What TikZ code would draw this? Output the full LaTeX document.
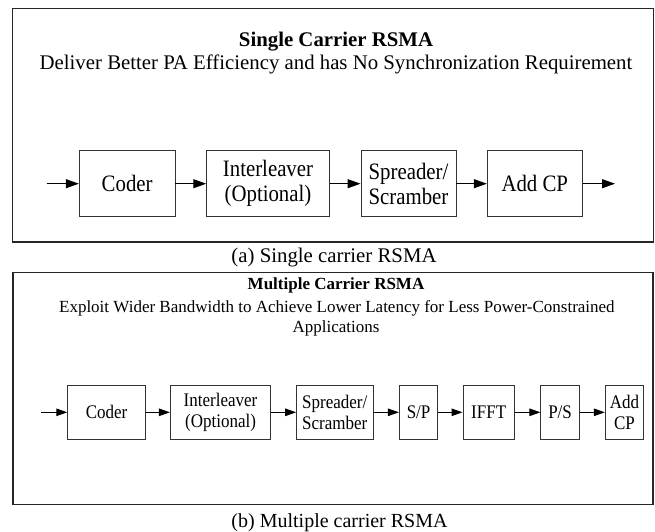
\documentclass[tikz,border=0pt]{standalone}
\usepackage{fontspec}
\setmainfont{Liberation Serif}
\usetikzlibrary{arrows.meta}
\newcommand{\vst}[1]{\scalebox{1}[1.13]{#1}}
\begin{document}
\begin{tikzpicture}[x=1pt,y=-1pt,
  frame/.style={draw=black!85, line width=1.3pt},
  bigtxt/.style={font=\fontsize{20.8}{25}\selectfont, inner sep=0pt, anchor=base},
  smalltxt/.style={font=\fontsize{17}{21}\selectfont, inner sep=0pt, anchor=base},
  blkA/.style={draw=black!80, line width=0.9pt, inner sep=0pt, align=center,
    minimum height=66pt, font=\fontsize{20.8}{25}\selectfont},
  blkB/.style={draw=black!80, line width=0.9pt, inner sep=0pt, align=center,
    minimum height=53.3pt, font=\fontsize{17}{21.5}\selectfont},
  connA/.style={line width=1pt, -{Triangle[length=13pt,width=9pt]}},
  connB/.style={line width=1pt, -{Triangle[length=11pt,width=7.5pt]}}
]
\useasboundingbox (0,0) rectangle (655,531);
\fill[white] (0,0) rectangle (655,531);

% ---------- panel (a) ----------
\draw[frame] (12.5,8.3) rectangle (653.5,242);
\node[bigtxt, font=\fontsize{20.8}{25}\selectfont\bfseries] (ta) at (336,46) {Single Carrier RSMA};
\node[bigtxt] (sa) at (336,69.5) {Deliver Better PA Efficiency and has No Synchronization Requirement};

\node[blkA, minimum width=95.7pt] (c1) at (127.15,183.7) {\vst{Coder}};
\node[blkA, minimum width=122.6pt] (i1) at (268,183.7) {\vst{Interleaver}\\\vst{(Optional)}};
\node[blkA, minimum width=95pt] (s1) at (408.5,183.7) {\vst{Spreader/}\\\vst{Scramber}};
\node[blkA, minimum width=95pt] (a1) at (534.8,183.7) {\vst{Add CP}};
\coordinate (in1) at (46.7,183.7);
\coordinate (out1) at (615,183.7);

\draw[connA] (in1) -- (c1);
\draw[connA] (c1) -- (i1);
\draw[connA] (i1) -- (s1);
\draw[connA] (s1) -- (a1);
\draw[connA] (a1) -- (out1);

\node[bigtxt] (capa) at (334,262.5) {(a) Single carrier RSMA};

% ---------- panel (b) ----------
\draw[frame] (13,272.3) rectangle (653,504.5);
\node[smalltxt, font=\fontsize{17}{21}\selectfont\bfseries] (tb) at (336,289.5) {Multiple Carrier RSMA};
\node[smalltxt] (sb1) at (336.9,312) {Exploit Wider Bandwidth to Achieve Lower Latency for Less Power-Constrained};
\node[smalltxt] (sb2) at (336,332.5) {Applications};

\node[blkB, minimum width=77.7pt] (c2) at (106.55,412.3) {\vst{Coder}};
\node[blkB, minimum width=100.3pt] (i2) at (220.55,412.3) {\vst{Interleaver}\\\vst{(Optional)}};
\node[blkB, minimum width=76.4pt] (s2) at (334.8,412.3) {\vst{Spreader/}\\\vst{Scramber}};
\node[blkB, minimum width=38.5pt] (sp) at (418.6,412.3) {\vst{S/P}};
\node[blkB, minimum width=51.5pt] (ff) at (488.7,412.3) {\vst{IFFT}};
\node[blkB, minimum width=38.5pt] (ps) at (560.1,412.3) {\vst{P/S}};
\node[blkB, minimum width=38.5pt] (ac) at (624.5,412.3) {\vst{Add}\\\vst{CP}};
\coordinate (in2) at (41,412.3);

\draw[connB] (in2) -- (c2);
\draw[connB] (c2) -- (i2);
\draw[connB] (i2) -- (s2);
\draw[connB] (s2) -- (sp);
\draw[connB] (sp) -- (ff);
\draw[connB] (ff) -- (ps);
\draw[connB] (ps) -- (ac);

\node[bigtxt, font=\fontsize{20}{24}\selectfont] (capb) at (339.5,527.5) {(b) Multiple carrier RSMA};
\end{tikzpicture}
\end{document}
